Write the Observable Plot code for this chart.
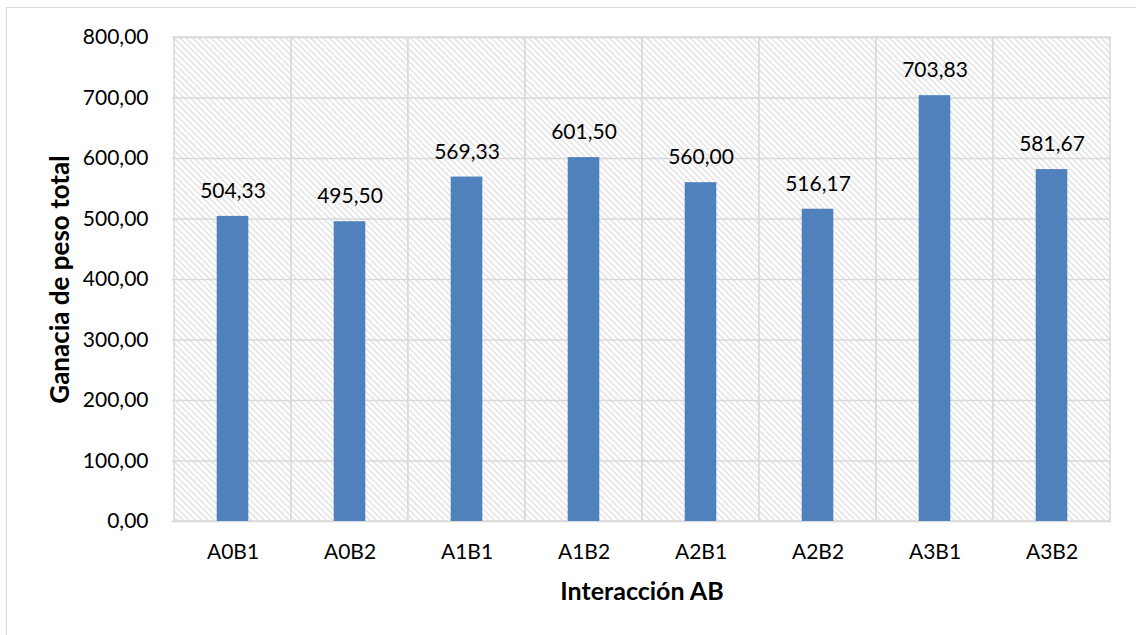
<!DOCTYPE html>
<html>
<head>
<meta charset="utf-8">
<script src="https://cdn.jsdelivr.net/npm/d3@7"></script>
<script src="https://cdn.jsdelivr.net/npm/@observablehq/plot@0.6"></script>
<style>
  html, body { margin: 0; padding: 0; background: #fff; }
  #wrap { position: relative; width: 1136px; height: 635px; overflow: hidden; }
  #frame { position: absolute; left: 6px; top: 7px; width: 1200px; height: 700px; border: 1.5px solid #d9d9d9; box-sizing: border-box; }
  #chart { position: absolute; left: 0; top: 0; }
</style>
</head>
<body>
<div id="wrap"><div id="frame"></div><div id="chart"></div></div>
<script>
const categories = ["A0B1", "A0B2", "A1B1", "A1B2", "A2B1", "A2B2", "A3B1", "A3B2"];
const values = [504.33, 495.50, 569.33, 601.50, 560.00, 516.17, 703.83, 581.67];
const yTicks = [0, 100, 200, 300, 400, 500, 600, 700, 800];
const xTitle = "Interacción AB";
const yTitle = "Ganacia de peso total";

const data = categories.map((c, i) => ({cat: c, value: values[i]}));
const fmt = v => v.toFixed(2).replace(".", ",");
const font = "Lato, 'Open Sans', sans-serif";

const chart = Plot.plot({
  width: 1136,
  height: 635,
  marginLeft: 172,
  marginRight: 25,
  marginTop: 37,
  marginBottom: 114,
  style: {fontFamily: font, fontSize: "21px", color: "#000", background: "transparent"},
  x: {domain: categories, padding: 0, label: null, tickSize: 0, tickPadding: 23},
  y: {domain: [0, 800], ticks: yTicks, tickFormat: fmt, label: null, tickSize: 0, tickPadding: 24},
  marks: [
    Plot.barY(categories, {x: d => d, y1: 0, y2: 800, fill: "url(#hatch)", stroke: "#d9d9d9", strokeWidth: 1.5}),
    Plot.ruleY(yTicks, {stroke: "#d9d9d9", strokeWidth: 1.5}),
    Plot.barY(data, {x: "cat", y: "value", fill: "#4f81bd", insetLeft: 42.7, insetRight: 42.7}),
    Plot.text(data, {x: "cat", y: "value", text: d => fmt(d.value), dy: -25, fill: "#000", fontSize: 21}),
    Plot.text([xTitle], {frameAnchor: "bottom", dy: 78, fontWeight: "bold", fontSize: 25, fill: "#000"}),
    Plot.text([yTitle], {frameAnchor: "left", textAnchor: "middle", dx: -112, rotate: -90, fontWeight: "bold", fontSize: 26, fill: "#000"})
  ]
});

const svg = d3.select(chart);
const defs = svg.insert("defs", ":first-child");
const pat = defs.append("pattern")
  .attr("id", "hatch")
  .attr("patternUnits", "userSpaceOnUse")
  .attr("width", 4.4)
  .attr("height", 4.4)
  .attr("patternTransform", "rotate(45)");
pat.append("rect").attr("width", 4.4).attr("height", 4.4).attr("fill", "#fff");
pat.append("rect").attr("x", 0).attr("y", 0).attr("width", 4.4).attr("height", 1.4).attr("fill", "#e0e0e0");

document.getElementById("chart").appendChild(chart);
</script>
</body>
</html>
